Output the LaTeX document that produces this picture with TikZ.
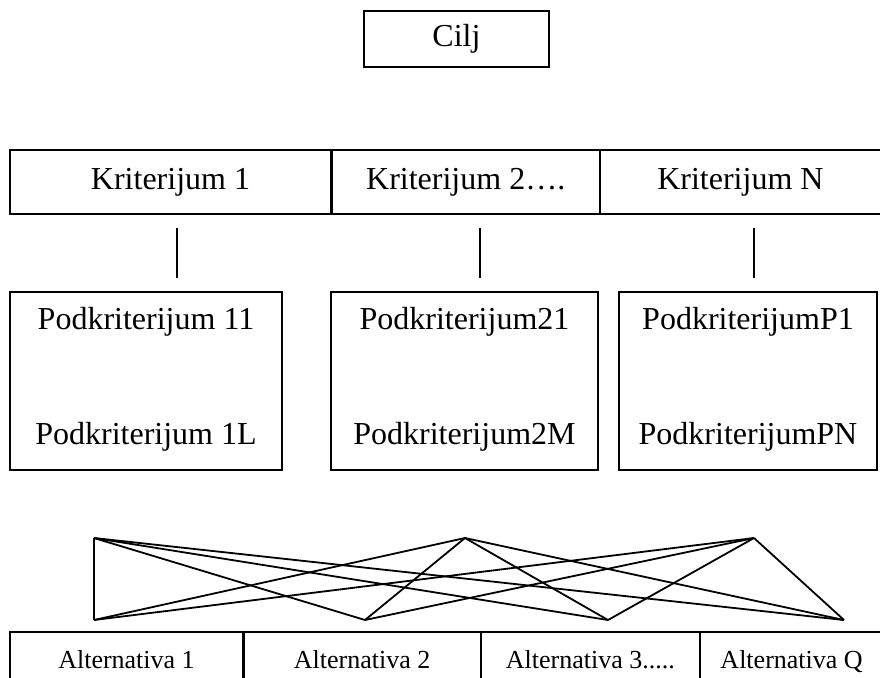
\documentclass[tikz,border=0pt]{standalone}
\usepackage{fontspec}
\setmainfont{Liberation Serif}
\usetikzlibrary{positioning, calc}

\begin{document}
\begin{tikzpicture}[
  x=0.5pt, y=-0.5pt,
  box/.style={rectangle, draw, line width=0.6pt, inner sep=0pt, font=\fontsize{16}{19}\selectfont},
  altbox/.style={box, minimum height=32pt, text height=0.7em, text depth=0.22em, font=\fontsize{13}{15}\selectfont},
  label/.style={inner sep=0pt, font=\fontsize{16}{19}\selectfont},
  link/.style={line width=0.9pt},
]
\useasboundingbox (0,0) rectangle (880,677);

% Cilj
\node[box, minimum width=92.5pt, minimum height=28pt] (cilj) at (456.5,39) {Cilj};

% Kriterijumi
\node[box, minimum width=160.5pt, minimum height=32pt] (k1) at (170.5,182) {Kriterijum 1};
\node[box, minimum width=133.5pt, minimum height=32pt, right=0pt of k1] (k2) {Kriterijum 2….};
\node[box, minimum width=140pt, minimum height=32pt, right=0pt of k2] (k3) {Kriterijum N};

% Podkriterijumi
\node[box, minimum width=136pt, minimum height=89pt] (p1) at (146,381) {};
\node[box, minimum width=133.5pt, minimum height=89pt] (p2) at (464.5,381) {};
\node[box, minimum width=129pt, minimum height=89pt] (p3) at (748,381) {};
\node[label] (p1a) at ($(p1.north)+(0,30)$) {Podkriterijum 11};
\node[label] (p1b) at ($(p1.south)+(0,-34)$) {Podkriterijum 1L};
\node[label] (p2a) at ($(p2.north)+(0,30)$) {Podkriterijum21};
\node[label] (p2b) at ($(p2.south)+(0,-34)$) {Podkriterijum2M};
\node[label] (p3a) at ($(p3.north)+(0,30)$) {PodkriterijumP1};
\node[label] (p3b) at ($(p3.south)+(0,-34)$) {PodkriterijumPN};

% Veze kriterijum - podkriterijum
\foreach \n/\vx in {1/177, 2/480, 3/754} {
  \coordinate (v\n a) at (\vx,228);
  \coordinate (v\n b) at (\vx,278);
  \draw[line width=0.6pt] (v\n a) -- (v\n b);
}

% Mreza veza
\foreach \n/\tx in {1/94, 2/465, 3/754}
  \coordinate (t\n) at (\tx,538);
\foreach \n/\bx in {1/94, 2/365, 3/608, 4/844}
  \coordinate (b\n) at (\bx,620);
\foreach \i in {1,2,3}
  \foreach \j in {1,2,3,4}
    \draw[link] (t\i) -- (b\j);

% Alternative
\node[altbox, minimum width=116.5pt] (a1) at (126.5,664) {Alternativa 1};
\node[altbox, minimum width=118pt, right=0pt of a1] (a2) {Alternativa 2};
\node[altbox, minimum width=109pt, right=0pt of a2] (a3) {Alternativa 3.....};
\node[altbox, minimum width=91pt, right=0pt of a3] (a4) {Alternativa Q};

\end{tikzpicture}
\end{document}
